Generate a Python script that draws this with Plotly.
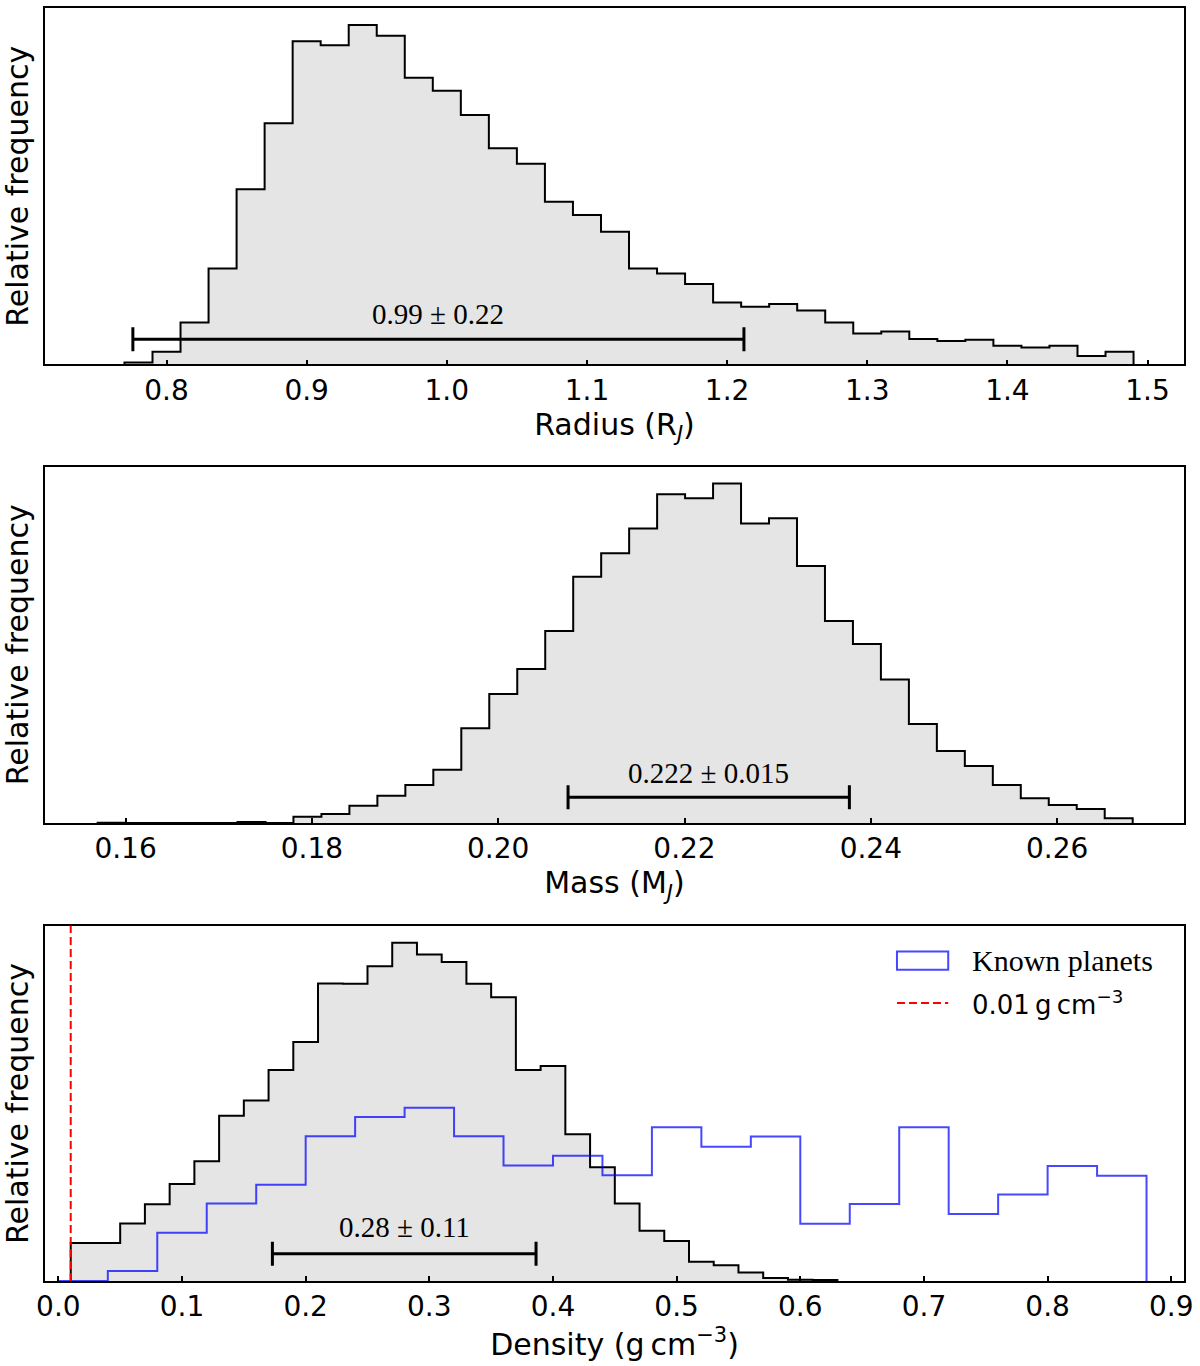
import plotly.graph_objects as go


### data ###

# radius posterior (R_J), bins of 0.02 starting at 0.77
radius_start, radius_width = 0.77, 0.02
radius_counts = [6, 38, 126, 288, 525, 723, 969, 957, 1018, 986,
                 860, 821, 748, 648, 602, 488, 448, 398, 288, 273,
                 241, 186, 173, 181, 162, 126, 93, 99, 76, 70,
                 74, 56, 51, 56, 25, 38]
radius_mean, radius_err = 0.994, 0.218
radius_label = "0.99 ± 0.22"

# mass posterior (M_J), bins of 0.003 starting at 0.157
mass_start, mass_width = 0.157, 0.003003
mass_counts = [1, 0, 0, 0, 0, 3, 0, 19, 27, 52,
               82, 114, 160, 284, 387, 462, 576, 739, 810, 884,
               987, 975, 1019, 899, 915, 771, 606, 537, 431, 297,
               216, 171, 114, 74, 54, 42, 14]
mass_mean, mass_err = 0.2226, 0.0151
mass_label = "0.222 ± 0.015"

# density posterior (g cm^-3), bins of 0.02 starting at 0.01
dens_start, dens_width = 0.01, 0.02
dens_counts = [113, 113, 171, 228, 288, 356, 491, 536, 627, 710,
               884, 883, 935, 1005, 970, 948, 883, 843, 627, 639,
               436, 338, 230, 149, 119, 57, 47, 25, 9, 4, 3]
dens_mean, dens_err = 0.2797, 0.1066
dens_label = "0.28 ± 0.11"

# known planets density, bins of 0.04 starting at 0.0
known_start, known_width = 0.0, 0.04
known_counts = [0, 30, 143, 230, 286, 430, 487, 515, 430, 343,
                372, 314, 457, 399, 429, 170, 229, 457, 199, 257,
                342, 313]

density_limit = 0.01

radius_ticks = [0.8, 0.9, 1.0, 1.1, 1.2, 1.3, 1.4, 1.5]
mass_ticks = [0.16, 0.18, 0.20, 0.22, 0.24, 0.26]
dens_ticks = [0.0, 0.1, 0.2, 0.3, 0.4, 0.5, 0.6, 0.7, 0.8, 0.9]


### helpers ###

def step_outline(start, width, counts):
    # matplotlib-like 'step' histogram outline, closed down to zero at both ends
    edges = [start + i*width for i in range(len(counts) + 1)]
    xs = [edges[0]] + edges + [edges[-1]]
    ys = [0] + list(counts) + [counts[-1], 0]
    return xs, ys


SANS = "DejaVu Sans"
SERIF = "Liberation Serif"
GREY = "#e5e5e5"
BLUE = "rgba(0,0,255,0.72)"

fig = go.Figure()

panels = [
    dict(start=radius_start, width=radius_width, counts=radius_counts,
         mean=radius_mean, err=radius_err, label=radius_label, ax=""),
    dict(start=mass_start, width=mass_width, counts=mass_counts,
         mean=mass_mean, err=mass_err, label=mass_label, ax="2"),
    dict(start=dens_start, width=dens_width, counts=dens_counts,
         mean=dens_mean, err=dens_err, label=dens_label, ax="3"),
]

ymax = {}
for p in panels:
    xs, ys = step_outline(p["start"], p["width"], p["counts"])
    top = 1.05*max(p["counts"])
    ymax[p["ax"]] = top
    fig.add_trace(go.Scatter(x=xs, y=ys, mode="lines", line_shape="hv",
                             line=dict(color="black", width=2),
                             fill="tozeroy", fillcolor=GREY,
                             xaxis="x" + p["ax"], yaxis="y" + p["ax"],
                             showlegend=False, hoverinfo="skip"))

# known planets outline on the density panel
kx, ky = step_outline(known_start, known_width, known_counts)
fig.add_trace(go.Scatter(x=kx, y=ky, mode="lines", line_shape="hv",
                         line=dict(color=BLUE, width=2),
                         xaxis="x3", yaxis="y3", showlegend=False,
                         hoverinfo="skip"))

# error bars + labels
bar_frac = {"": 0.071, "2": 0.072, "3": 0.077}
txt_frac = {"": 0.092, "2": 0.090, "3": 0.100}
for p in panels:
    yb = bar_frac[p["ax"]]*ymax[p["ax"]]
    fig.add_trace(go.Scatter(x=[p["mean"]], y=[yb], mode="markers",
                             marker=dict(size=0, opacity=0, color="black"),
                             error_x=dict(type="data", array=[p["err"]],
                                          color="black", thickness=3,
                                          width=12),
                             xaxis="x" + p["ax"], yaxis="y" + p["ax"],
                             showlegend=False, hoverinfo="skip"))
    fig.add_annotation(x=p["mean"], y=txt_frac[p["ax"]],
                       xref="x" + p["ax"], yref="y" + p["ax"] + " domain",
                       text=p["label"], showarrow=False,
                       font=dict(family=SERIF, size=29, color="black"))

# red dashed reference density
fig.add_shape(type="line", x0=density_limit, x1=density_limit, y0=0, y1=1,
              xref="x3", yref="y3 domain",
              line=dict(color="red", width=2, dash="8px,4px"))

# legend (drawn by hand, matplotlib style patch + line)
fig.add_shape(type="rect", x0=0.748, x1=0.793, y0=0.876, y1=0.928,
              xref="x3 domain", yref="y3 domain",
              line=dict(color=BLUE, width=2), fillcolor="rgba(0,0,0,0)")
fig.add_shape(type="line", x0=0.748, x1=0.793, y0=0.783, y1=0.783,
              xref="x3 domain", yref="y3 domain",
              line=dict(color="red", width=2, dash="8px,4px"))
fig.add_annotation(x=0.8125, y=0.902, xref="x3 domain", yref="y3 domain",
                   xanchor="left", yanchor="middle", showarrow=False,
                   text="Known planets",
                   font=dict(family=SERIF, size=30, color="black"))
fig.add_annotation(x=0.8125, y=0.783, xref="x3 domain", yref="y3 domain",
                   xanchor="left", yanchor="middle", showarrow=False,
                   text="0.01\u2009g\u2009cm<sup>\u22123</sup>",
                   font=dict(family=SANS, size=26, color="black"))

### layout ###

axis_common = dict(showline=True, mirror=True, linecolor="black", linewidth=1.5,
                   ticks="inside", ticklen=5, tickwidth=1.5, tickcolor="black",
                   showgrid=False, zeroline=False,
                   tickfont=dict(family=SANS, size=28, color="black"))
yaxis_common = dict(showline=True, mirror=True, linecolor="black", linewidth=1.5,
                    showticklabels=False, ticks="", showgrid=False,
                    zeroline=False,
                    title=dict(text="Relative frequency", standoff=6,
                               font=dict(family=SANS, size=30, color="black")))
xtitle_font = dict(family=SANS, size=30, color="black")

fig.update_layout(
    width=1200, height=1366,
    margin=dict(l=45, r=14, t=6, b=85),
    paper_bgcolor="white", plot_bgcolor="white",
    showlegend=False,
    xaxis=dict(axis_common, domain=[0, 1], anchor="y",
               range=[0.7133, 1.526], tickvals=radius_ticks, tickformat=".1f",
               title=dict(text="Radius (R<sub><i>J</i></sub>)", standoff=0,
                          font=xtitle_font)),
    yaxis=dict(yaxis_common, domain=[0.72, 1.0], anchor="x",
               range=[0, ymax[""]]),
    xaxis2=dict(axis_common, domain=[0, 1], anchor="y2",
                range=[0.15135, 0.27362], tickvals=mass_ticks, tickformat=".2f",
                title=dict(text="Mass (M<sub><i>J</i></sub>)", standoff=0,
                           font=xtitle_font)),
    yaxis2=dict(yaxis_common, domain=[0.3598, 0.6398], anchor="x2",
                range=[0, ymax["2"]]),
    xaxis3=dict(axis_common, domain=[0, 1], anchor="y3",
                range=[-0.0108, 0.9103], tickvals=dens_ticks, tickformat=".1f",
                title=dict(text="Density (g\u2009cm<sup>\u22123</sup>)", standoff=0,
                           font=xtitle_font)),
    yaxis3=dict(yaxis_common, domain=[0, 0.279], anchor="x3",
                range=[0, ymax["3"]]),
)

# drop the browser's default page margin so the figure fills the window
fig.write_html("out.html", config={"displayModeBar": False},
               post_script="document.body.style.margin='0';"
                           "document.body.style.overflow='hidden';")
